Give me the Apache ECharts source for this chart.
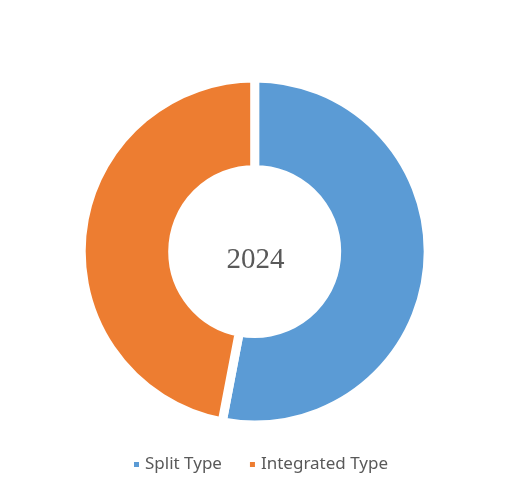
<!DOCTYPE html>
<html><head><meta charset="utf-8">
<script src="https://cdn.jsdelivr.net/npm/echarts@6/dist/echarts.min.js"></script>
<style>html,body{margin:0;padding:0;background:#fff}#c{width:510px;height:493px}</style>
</head><body><div id="c"></div>
<script>
const categories = ["Split Type", "Integrated Type"];
const values = [53, 47];
const colors = ["#5B9BD5", "#ED7D31"];
const centerLabel = "2024";

const chart = echarts.init(document.getElementById('c'), null, {renderer: 'canvas'});
chart.setOption({
  animation: false,
  color: colors,
  title: {
    text: centerLabel, left: 250.5, top: 255, textAlign: 'center', textVerticalAlign: 'middle',
    textStyle: {fontFamily: 'Liberation Serif, DejaVu Serif, serif', fontSize: 29, fontWeight: 'normal', color: '#595959'}
  },
  legend: {
    data: categories, top: 451, left: 127, icon: 'rect', itemWidth: 7, itemHeight: 7, itemGap: 26,
    textStyle: {fontFamily: 'Noto Sans', fontSize: 17, color: '#595959'}
  },
  series: [{
    type: 'pie', center: [254.7, 251.5], radius: [82, 173.5], startAngle: 90, clockwise: true,
    label: {show: false}, labelLine: {show: false},
    itemStyle: {borderColor: '#fff', borderWidth: 9},
    data: categories.map((n, i) => ({name: n, value: values[i]}))
  }]
});
</script></body></html>
